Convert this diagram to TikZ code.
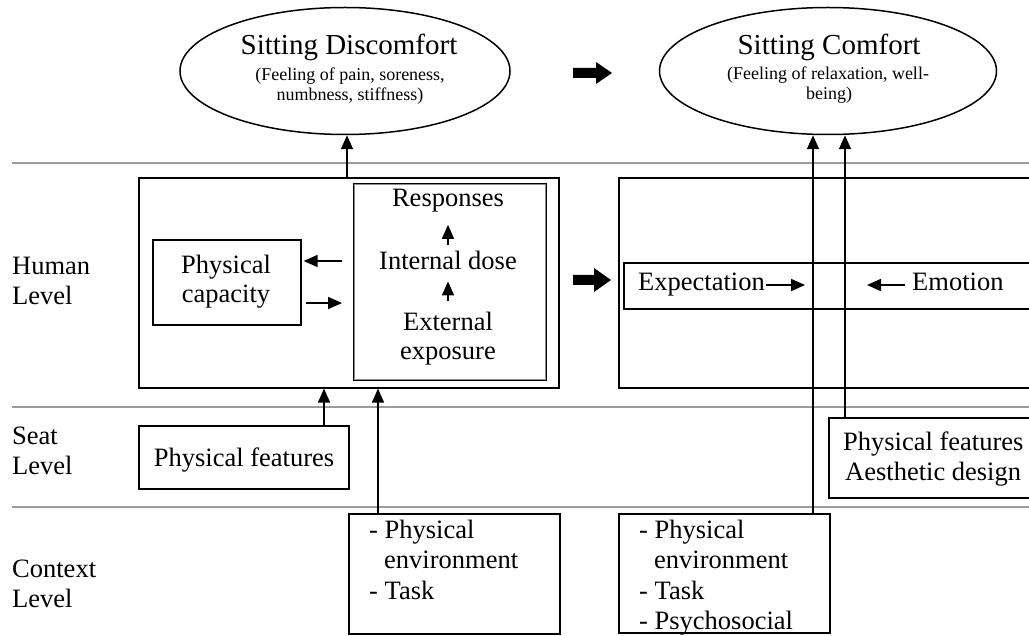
\documentclass[tikz,border=0pt]{standalone}
\usepackage{fontspec}
\setmainfont{Liberation Serif}
\usetikzlibrary{arrows.meta,shapes.geometric}
\definecolor{levelgray}{RGB}{155,155,155}
\newcommand\txtmain{\fontsize{26.5}{30}\selectfont}
\newcommand\txttitle{\fontsize{29}{32}\selectfont}
\newcommand\txtsmall{\fontsize{18}{21.5}\selectfont}
\begin{document}
\begin{tikzpicture}[x=1pt,y=-1pt,
  frame/.style={draw,line width=1.6pt,inner sep=0pt,anchor=north west},
  oval/.style={ellipse,draw,line width=1.5pt,inner sep=0pt,minimum width=330pt,minimum height=127pt},
  lbl/.style={inner sep=0pt,font=\txtmain,anchor=base west},
  ctr/.style={inner sep=0pt,font=\txtmain,anchor=base},
  ttl/.style={inner sep=0pt,font=\txttitle,anchor=base},
  sub/.style={inner sep=0pt,font=\txtsmall,anchor=base},
  arr/.style={line width=1.6pt,-{Triangle[length=14pt,width=12pt]}},
  levelline/.style={line width=2pt,draw=levelgray},
  blockarrow/.style={fill=black}
]
\clip (0,0) rectangle (1029,636);

% level separators
\draw[levelline] (12,163) -- (1029,163);
\draw[levelline] (12,407) -- (1029,407);
\draw[levelline] (12,507) -- (1029,507);

% level names
\node[lbl] (hum1) at (12,275) {Human};
\node[lbl] (hum2) at (12,305) {Level};
\node[lbl] (seat1t) at (12,445) {Seat};
\node[lbl] (seat2t) at (12,475) {Level};
\node[lbl] (ctx1t) at (12,577) {Context};
\node[lbl] (ctx2t) at (12,607) {Level};

% outcome ellipses
\node[oval] (disc) at (345,71) {};
\node[ttl] (discA) at (349,55) {Sitting Discomfort};
\node[sub] (discB) at (350,81) {(Feeling of pain, soreness,};
\node[sub] (discC) at (350,101) {numbness, stiffness)};

\node[oval,minimum width=337pt] (comf) at (828,71) {};
\node[ttl] (comfA) at (829,55) {Sitting Comfort};
\node[sub] (comfB) at (828,80) {(Feeling of relaxation, well-};
\node[sub] (comfC) at (829,100) {being)};

% block arrows between the two sides
\fill[blockarrow,shift={(573,73)}] (0,-5) -- (23,-5) -- (23,-11) -- (39,0) -- (23,11) -- (23,5) -- (0,5) -- cycle;
\fill[blockarrow,shift={(573,280)}] (0,-5) -- (21,-5) -- (21,-12) -- (38,0) -- (21,12) -- (21,5) -- (0,5) -- cycle;

% human level, discomfort side
\node[frame,minimum width=420pt,minimum height=210pt] (hbox) at (138,177) {};
\node[frame,line width=1.8pt,minimum width=192pt,minimum height=196pt] (inner) at (353,183) {};
\draw[line width=0.5pt,draw=black!45] ([shift={(1.6,1.6)}]inner.north west) rectangle ([shift={(-1.6,-1.6)}]inner.south east);
\node[frame,minimum width=148pt,minimum height=85pt] (pcap) at (152,239) {};
\node[ctr] (pcapA) at (226,274) {Physical};
\node[ctr] (pcapB) at (226,303) {capacity};

\node[ctr] (resp) at (448,207) {Responses};
\node[ctr] (idose) at (448,270) {Internal dose};
\node[ctr] (extA) at (448,331) {External};
\node[ctr] (extB) at (448,360) {exposure};

\draw[arr,shorten <=6pt,shorten >=12pt] (idose.north) -- (resp.south);
\draw[arr,shorten <=11pt,shorten >=11pt] (extA.north) -- (idose.south);

\coordinate (pcL) at (342,261);
\coordinate (pcR) at (342,303);
\draw[arr,shorten >=2pt] (pcL) -- (pcL -| pcap.east);
\draw[arr] ([xshift=4pt]pcR -| pcap.east) -- (pcR);

% human level, comfort side
\node[frame,minimum width=430pt,minimum height=210pt] (cbox) at (618,177) {};
\node[frame,minimum width=420pt,minimum height=46pt] (row) at (623,262) {};
\node[lbl,inner xsep=1.5pt] (expec) at (636.5,291) {Expectation};
\node[lbl,inner xsep=7pt] (emot) at (905,291) {Emotion};
\coordinate (expecEnd) at (805,285);
\coordinate (emotEnd) at (867,285);
\draw[arr] (expec.east |- expecEnd) -- (expecEnd);
\draw[arr] (emot.west |- emotEnd) -- (emotEnd);

% seat level
\node[frame,minimum width=210pt,minimum height=63pt] (seatL) at (138,425) {};
\node[ctr] (seatLt) at (244,466) {Physical features};
\node[frame,minimum width=220pt,minimum height=80pt] (seatR) at (828,417) {};
\node[lbl] (seatRa) at (843,450) {Physical features};
\node[lbl] (seatRb) at (845,480) {Aesthetic design};

% context level
\node[frame,minimum width=211pt,minimum height=120pt] (ctxL) at (348,513) {};
\node[lbl] (ctxLa) at (369,538) {- Physical};
\node[lbl] (ctxLb) at (384,568) {environment};
\node[lbl] (ctxLc) at (369,599) {- Task};

\node[frame,minimum width=211pt,minimum height=119pt] (ctxR) at (618,513) {};
\node[lbl] (ctxRa) at (639,538) {- Physical};
\node[lbl] (ctxRb) at (654,568) {environment};
\node[lbl] (ctxRc) at (639,599) {- Task};
\node[lbl] (ctxRd) at (639,629) {- Psychosocial};

% influences between levels
\coordinate (xd) at (347,0);
\coordinate (xs1) at (324,0);
\coordinate (xs2) at (378,0);
\coordinate (xc1) at (813,0);
\coordinate (xc2) at (845,0);
\draw[arr] (hbox.north -| xd) -- (disc.south -| xd);
\draw[arr] (seatL.north -| xs1) -- (hbox.south -| xs1);
\draw[arr] (ctxL.north -| xs2) -- (hbox.south -| xs2);
\draw[arr] (ctxR.north -| xc1) -- (comf.south -| xc1);
\draw[arr] (seatR.north -| xc2) -- (comf.south -| xc2);
\end{tikzpicture}
\end{document}
